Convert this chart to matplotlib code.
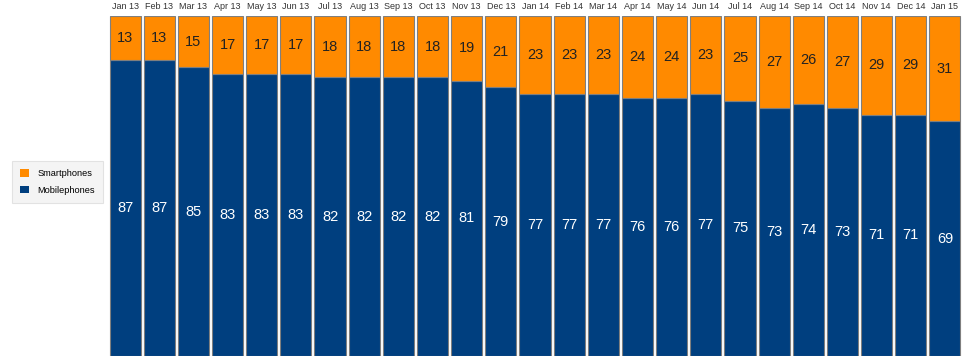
import numpy as np
import matplotlib.pyplot as plt
from matplotlib.patches import Patch

plt.rcParams['font.family'] = ['Liberation Sans', 'DejaVu Sans']

months = ['Jan 13', 'Feb 13', 'Mar 13', 'Apr 13', 'May 13', 'Jun 13', 'Jul 13', 'Aug 13',
          'Sep 13', 'Oct 13', 'Nov 13', 'Dec 13', 'Jan 14', 'Feb 14', 'Mar 14', 'Apr 14',
          'May 14', 'Jun 14', 'Jul 14', 'Aug 14', 'Sep 14', 'Oct 14', 'Nov 14', 'Dec 14', 'Jan 15']
smartphones = [13, 13, 15, 17, 17, 17, 18, 18, 18, 18, 19, 21, 23, 23, 23, 24, 24, 23, 25, 27, 26, 27, 29, 29, 31]
mobilephones = [87, 87, 85, 83, 83, 83, 82, 82, 82, 82, 81, 79, 77, 77, 77, 76, 76, 77, 75, 73, 74, 73, 71, 71, 69]

orange = '#ff8a00'
blue = '#003f7f'
edge = '#7f7f7f'

fig = plt.figure(figsize=(9.75, 3.62), dpi=100)
ax = fig.add_axes([108 / 975, 6 / 362, 854 / 975, 340 / 362])

x = np.arange(len(months))
ax.bar(x, mobilephones, width=0.91, color=blue, edgecolor=edge, linewidth=0.8)
ax.bar(x, smartphones, width=0.91, bottom=mobilephones, color=orange, edgecolor=edge, linewidth=0.8)

for i in range(len(months)):
    ax.text(x[i], mobilephones[i] / 2, str(mobilephones[i]), ha='center', va='center',
            color='white', fontsize=10.5)
    ax.text(x[i], mobilephones[i] + smartphones[i] / 2, str(smartphones[i]), ha='center',
            va='center', color='#222222', fontsize=10.5)
    ax.text(x[i], 101.6, months[i], ha='center', va='bottom', color='#333333', fontsize=6.5)

ax.set_xlim(-0.5, len(months) - 0.5)
ax.set_ylim(0, 100)
ax.axis('off')

handles = [Patch(facecolor=orange, edgecolor='none'), Patch(facecolor=blue, edgecolor='none')]
leg = fig.legend(handles, ['Smartphones', 'Mobilephones'], loc='center left',
                 bbox_to_anchor=(12 / 975, 1 - 182 / 362), fontsize=6.7, frameon=True,
                 fancybox=False, handlelength=0.9, handleheight=0.9, handletextpad=0.9,
                 borderpad=0.9, labelspacing=0.8, borderaxespad=0)
leg.get_frame().set_facecolor('#f2f2f2')
leg.get_frame().set_edgecolor('#dddddd')
leg.get_frame().set_linewidth(0.8)

fig.savefig('out.png', dpi=100)
